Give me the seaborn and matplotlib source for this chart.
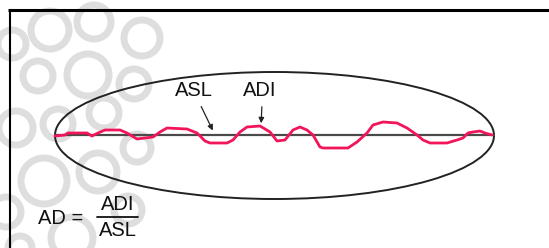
import matplotlib
matplotlib.use("Agg")
import matplotlib.pyplot as plt
from matplotlib.patches import Ellipse, Circle
import seaborn as sns
import pandas as pd

# actual developed interface (ADI) trace, pixel-style coords (y grows down)
adi_x = [55, 65, 68, 73, 87, 92, 98, 105, 120, 127, 137, 153, 160, 167, 187, 197, 205, 210,
         227, 233, 240, 247, 260, 270, 277, 285, 293, 300, 307, 313, 320, 323, 348, 357, 367,
         373, 383, 397, 407, 417, 423, 430, 447, 457, 463, 468, 473, 480, 485, 492]
adi_y = [136, 135, 133, 133, 133, 136, 133, 130, 130, 133, 139, 137, 132, 128, 129, 133, 141, 143,
         143, 140, 132, 127, 126, 132, 141, 140, 130, 127, 130, 135, 147, 148, 148, 142, 133,
         125, 122, 123, 128, 135, 140, 143, 143, 140, 138, 133, 132, 131, 133, 135]

# actual surface line (ASL)
asl_x = [55, 494]
asl_y = [135, 135]

# ellipse around the surface
ell_center = (274.5, 135.5)
ell_w, ell_h = 439, 127

# watermark rings (x, y, r)
rings = [(50, 30, 19), (94, 22, 17), (88, 75, 21), (38, 76, 15), (16, 128, 17),
         (58, 124, 15), (104, 113, 15), (134, 84, 15), (44, 181, 23), (98, 172, 19),
         (72, 238, 21), (137, 148, 14), (6, 212, 15), (142, 38, 18), (12, 44, 14),
         (128, 210, 14), (20, 248, 12)]

sns.set_style("white")
plt.rcParams['font.family'] = ['Liberation Sans', 'DejaVu Sans']

fig = plt.figure(figsize=(5.49, 2.48), dpi=100)
ax = fig.add_axes([0, 0, 1, 1])
ax.set_xlim(0, 549)
ax.set_ylim(248, 0)
ax.axis("off")

# faint background pattern
for cx, cy, r in rings:
    ax.add_patch(Circle((cx, cy), r, fill=False, ec="#dedede", lw=5, zorder=0))

# frame
ax.plot([8, 549], [10, 10], color="black", lw=2.2, solid_capstyle="butt")
ax.plot([10, 10], [10, 248], color="black", lw=1.5)

ax.add_patch(Ellipse(ell_center, ell_w, ell_h, fill=False, ec="#222222", lw=1.4, zorder=2))

sns.lineplot(x=asl_x, y=asl_y, ax=ax, color="#4a4a4a", lw=1.6, zorder=3)
df = pd.DataFrame({"x": adi_x, "y": adi_y})
sns.lineplot(data=df, x="x", y="y", ax=ax, sort=False, color="#f2155a", lw=2.0, zorder=4)

tkw = dict(fontsize=14.5, color="#111111", ha="center", va="center")
ax.text(194, 91, "ASL", **tkw)
ax.text(260, 91, "ADI", **tkw)
ax.annotate("", xy=(214, 133), xytext=(200, 104),
            arrowprops=dict(arrowstyle="-|>", color="#222222", lw=0.9, mutation_scale=8))
ax.annotate("", xy=(261, 126), xytext=(262, 104),
            arrowprops=dict(arrowstyle="-|>", color="#222222", lw=0.9, mutation_scale=8))

# formula
ax.text(38, 218, "AD =", fontsize=14.5, color="#111111", ha="left", va="center")
ax.text(118, 205, "ADI", **tkw)
ax.plot([97, 138], [217, 217], color="#111111", lw=1.3)
ax.text(118, 230, "ASL", **tkw)

fig.savefig("out.png", dpi=100)
